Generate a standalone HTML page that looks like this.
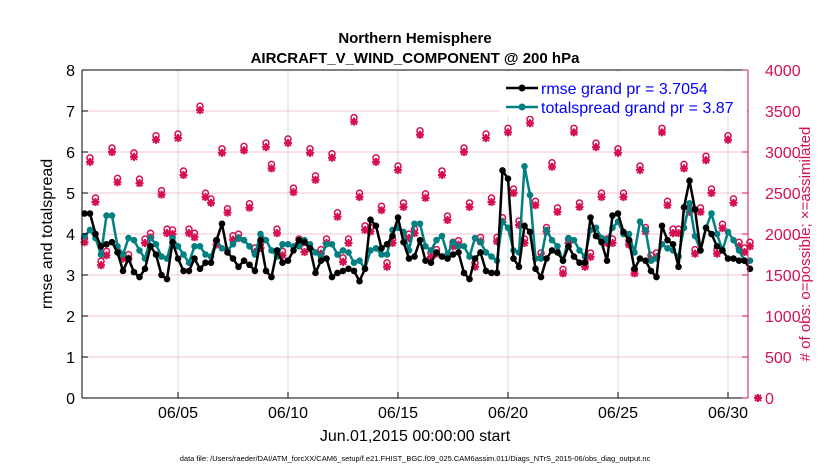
<!DOCTYPE html>
<html><head><meta charset="utf-8">
<style>
body{margin:0;background:#fff;}
svg{display:block;font-family:"Liberation Sans",Arial,sans-serif;}
</style></head>
<body>
<svg id="chart" width="830" height="470" viewBox="0 0 830 470" xmlns="http://www.w3.org/2000/svg">
<rect x="0" y="0" width="830" height="470" fill="#fff"/>
<g id="grid"></g>
<g id="series"></g>
<g id="axes"></g>
<text x="415" y="43" text-anchor="middle" font-size="15" font-weight="bold">Northern Hemisphere</text>
<text x="415" y="63" text-anchor="middle" font-size="15" font-weight="bold">AIRCRAFT_V_WIND_COMPONENT @ 200 hPa</text>
<text x="415" y="441" text-anchor="middle" font-size="16">Jun.01,2015 00:00:00 start</text>
<text transform="translate(52,234) rotate(-90)" text-anchor="middle" font-size="16">rmse and totalspread</text>
<text transform="translate(810,244) rotate(-90)" text-anchor="middle" font-size="15" fill="#d6104f"># of obs: o=possible; ×=assimilated</text>
<text x="415" y="461" text-anchor="middle" font-size="7.5">data file: /Users/raeder/DAI/ATM_forcXX/CAM6_setup/f.e21.FHIST_BGC.f09_025.CAM6assim.011/Diags_NTrS_2015-06/obs_diag_output.nc</text>
<g id="legend">
<rect x="500" y="72" width="247" height="44" fill="#fff"/>
<line x1="506" y1="88" x2="538" y2="88" stroke="#000" stroke-width="2.5"/>
<circle cx="522" cy="88" r="3.5" fill="#000"/>
<text x="541" y="94" font-size="16" fill="#0000ff">rmse grand pr = 3.7054</text>
<line x1="506" y1="107" x2="538" y2="107" stroke="#008080" stroke-width="2.5"/>
<circle cx="522" cy="107" r="3.5" fill="#008080"/>
<text x="541" y="113" font-size="16" fill="#0000ff">totalspread grand pr = 3.87</text>
</g>
</svg>
<script>
const rmse=[4.5,4.5,4.0,3.7,3.75,3.8,3.55,3.1,3.4,3.07,2.95,3.15,3.7,3.5,3.0,2.9,3.8,3.4,3.1,3.1,3.4,3.15,3.3,3.3,3.85,
4.25,3.55,3.4,3.2,3.35,3.25,3.1,3.85,3.1,2.95,3.6,3.3,3.35,3.6,3.85,3.8,3.65,3.05,3.35,3.4,2.95,3.05,3.1,3.15,
3.1,2.85,3.15,4.35,4.2,3.65,3.75,3.95,4.4,3.8,3.4,3.45,3.85,3.35,3.3,3.55,3.45,3.4,3.5,3.55,3.05,2.9,3.4,3.55,
3.1,3.05,3.05,5.55,5.35,3.4,3.2,4.2,4.05,3.15,2.95,3.4,3.6,3.55,3.35,3.7,3.45,3.3,3.3,4.4,3.95,3.8,3.35,4.45,4.5,4.05,
3.85,3.15,3.4,3.35,3.1,2.95,4.2,3.85,3.75,3.2,4.65,5.3,4.6,3.6,4.15,4.0,3.7,3.6,3.4,3.4,3.35,3.35,3.15];
const spread=[3.95,4.1,3.9,3.5,4.45,4.45,3.7,3.5,3.9,3.85,3.6,3.4,3.9,3.75,3.45,3.4,3.9,3.7,3.5,3.3,3.7,3.7,3.5,3.45,3.85,
3.65,3.6,3.75,3.9,3.85,3.7,3.5,4.0,3.85,3.6,3.45,3.75,3.75,3.7,3.7,3.85,3.75,3.55,3.45,3.75,3.75,3.5,3.6,3.55,
3.3,3.35,3.15,3.6,3.65,3.5,3.5,4.1,4.15,4.05,3.6,4.25,4.25,3.7,3.6,3.85,3.95,3.5,3.8,3.7,3.7,3.45,3.9,3.8,
3.55,3.45,3.35,4.3,4.15,3.6,3.55,5.65,4.95,3.4,3.4,4.1,3.85,3.7,3.35,3.9,3.85,3.6,3.45,4.1,4.15,3.9,3.85,4.15,4.3,4.0,
4.0,3.55,4.3,4.1,3.35,3.4,3.75,3.65,3.6,3.45,4.15,4.75,3.95,3.6,4.15,4.5,4.0,3.6,4.05,3.85,3.6,3.35,3.35];
const obsCount=[1900,2880,2390,1620,1740,3000,2630,1700,1700,2940,2620,1890,1960,3150,2480,2010,2000,3170,2720,2010,1960,3510,2450,2380,1870,
2990,2260,1930,1950,3020,2320,1780,1830,3060,2800,2010,1740,3110,2510,1890,1780,2990,2660,1760,1890,2930,2210,1660,1890,
3370,2450,2050,2030,2880,2290,1600,1890,2780,2330,1950,2010,3210,2440,1720,1760,2720,2170,1850,1870,3000,2330,1600,1910,3170,
2390,1910,2150,3240,2500,2110,1890,3350,2350,1720,2030,2820,2270,1520,1890,3240,2330,1600,1720,3060,2450,1890,1890,2990,2450,
1870,1520,2780,2030,1690,1720,3240,2350,2010,2010,2800,2270,1760,2270,2900,2500,1760,2070,3150,2380,1850,1780,1850];
const xTickDays=[5,10,15,20,25,30];
const xTickLabels=["06/05","06/10","06/15","06/20","06/25","06/30"];
const yTicksLeft=[0,1,2,3,4,5,6,7,8];
const yTicksRight=[0,500,1000,1500,2000,2500,3000,3500,4000];
const startDay=0.75, stepDay=0.25;

const NS="http://www.w3.org/2000/svg";
const L=82,R=748,T=70,B=398;
const xDay=d=>178+(d-5)*22;
const yL=v=>B-(v/8)*(B-T);
const yR=v=>B-(v/4000)*(B-T);
function mk(tag,attrs,parent){const e=document.createElementNS(NS,tag);for(const k in attrs)e.setAttribute(k,attrs[k]);parent.appendChild(e);return e;}
const grid=document.getElementById('grid'),series=document.getElementById('series'),axes=document.getElementById('axes');
mk('rect',{x:L,y:T,width:R-L,height:B-T,fill:'#fff'},grid);
yTicksRight.forEach(v=>{const g=mk('line',{x1:L,x2:R,y1:yR(v),y2:yR(v),stroke:'#f4c6d6','stroke-width':1},grid);

});
xTickDays.forEach((d,i)=>{const g=mk('line',{x1:xDay(d),x2:xDay(d),y1:T,y2:B,stroke:'#d8d8d8','stroke-width':1},grid);


const t=mk('text',{x:xDay(d),y:B+20,'text-anchor':'middle','font-size':16},axes);t.textContent=xTickLabels[i];


const tk=mk('line',{x1:xDay(d),x2:xDay(d),y1:B,y2:B-6,stroke:'#000'},axes);

});
obsCount.forEach((v,i)=>{const x=xDay(startDay+i*stepDay),y=yR(v);
const g=mk('g',{},series);


mk('circle',{cx:x,cy:y-4,r:3,fill:'none',stroke:'#d6104f','stroke-width':1.5},g);
const s=4;
mk('path',{d:`M${x-s} ${y}H${x+s}M${x} ${y-s}V${y+s}M${x-3} ${y-3}L${x+3} ${y+3}M${x-3} ${y+3}L${x+3} ${y-3}`,stroke:'#d6104f','stroke-width':2},g);});
function line(arr,color,name){let d='';arr.forEach((v,i)=>{d+=(i?'L':'M')+xDay(startDay+i*stepDay).toFixed(1)+' '+yL(v).toFixed(1);});
const p=mk('path',{d:d,fill:'none',stroke:color,'stroke-width':2.5,'stroke-linejoin':'round'},series);


arr.forEach((v,i)=>{const c=mk('circle',{cx:xDay(startDay+i*stepDay),cy:yL(v),r:3.3,fill:color},series);

});}
line(spread,'#008080','totalspread');
line(rmse,'#000','rmse');
const z=mk('path',{d:`M754 398H762M758 394V402M755 395L761 401M755 401L761 395`,stroke:'#d6104f','stroke-width':2},axes);


mk('line',{x1:L,x2:L,y1:T,y2:B,stroke:'#000'},axes);
mk('line',{x1:L,x2:R,y1:B,y2:B,stroke:'#000'},axes);
mk('line',{x1:L,x2:R,y1:T,y2:T,stroke:'#000'},axes);
mk('line',{x1:R,x2:R,y1:T,y2:B,stroke:'#d6104f'},axes);
yTicksLeft.forEach(v=>{const t=mk('text',{x:L-7,y:yL(v)+6,'text-anchor':'end','font-size':16},axes);t.textContent=v;


mk('line',{x1:L,x2:L+6,y1:yL(v),y2:yL(v),stroke:'#000'},axes);});
yTicksRight.forEach(v=>{const t=mk('text',{x:R+17,y:yR(v)+6,'font-size':16,fill:'#d6104f'},axes);t.textContent=v;


mk('line',{x1:R-6,x2:R,y1:yR(v),y2:yR(v),stroke:'#d6104f'},axes);});
</script>
</body></html>
